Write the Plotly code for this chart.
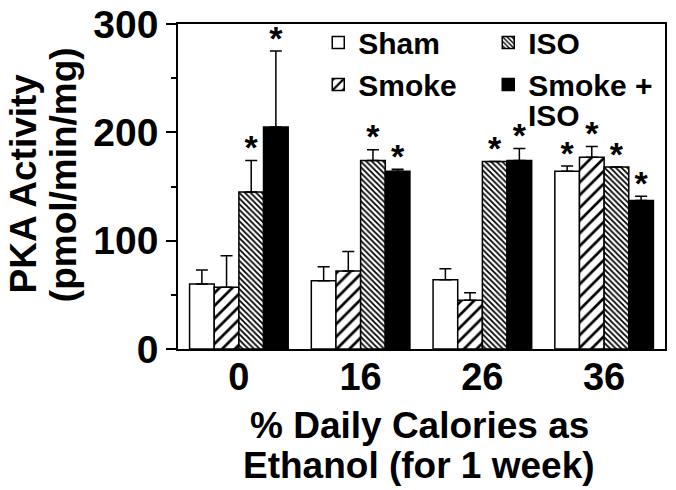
import plotly.graph_objects as go

categories = ["0", "16", "26", "36"]
series_names = ["Sham", "Smoke", "ISO", "Smoke +"]
sham = [60, 63, 64, 164]
sham_err = [13, 13, 10, 5]
smoke = [57, 72, 45, 177]
smoke_err = [29, 18, 7, 10]
iso = [145, 174, 173, 168]
iso_err = [29, 10, 0, 0]
smoke_iso = [205, 164, 174, 137]
smoke_iso_err = [70, 2, 11, 4]
sham_sig = [False, False, False, True]
smoke_sig = [False, False, False, True]
iso_sig = [True, True, True, True]
smoke_iso_sig = [True, True, True, True]
y_ticks = [0, 100, 200, 300]

FONT = "Liberation Sans, Arial, Helvetica, sans-serif"
BARGAP = 0.19
STAR_GAP = 9  # gap between error-bar top and asterisk, in axis units (styling)

values = [sham, smoke, iso, smoke_iso]
errors = [sham_err, smoke_err, iso_err, smoke_iso_err]
sigs = [sham_sig, smoke_sig, iso_sig, smoke_iso_sig]
ranks = [1, 3, 2, 4]
markers = [
    dict(color="white", line=dict(color="black", width=1.5)),
    dict(color="white", line=dict(color="black", width=1.5),
         pattern=dict(shape="/", fgcolor="black", bgcolor="white", size=9, solidity=0.3)),
    dict(color="white", line=dict(color="black", width=1.5),
         pattern=dict(shape="\\", fgcolor="black", bgcolor="white", size=4, solidity=0.45)),
    dict(color="black", line=dict(color="black", width=1.5)),
]

fig = go.Figure()
for i, name in enumerate(series_names):
    fig.add_trace(go.Bar(
        x=categories, y=values[i], name=name, offsetgroup=str(i),
        marker=markers[i], legendrank=ranks[i],
        error_y=dict(type="data", symmetric=False, array=errors[i],
                     arrayminus=[0] * len(categories), color="black",
                     thickness=1.5, width=6),
    ))
for i, name in enumerate(series_names):
    ys = [v + e + STAR_GAP if s else None for v, e, s in zip(values[i], errors[i], sigs[i])]
    fig.add_trace(go.Scatter(
        x=categories, y=ys, mode="text", text=["*"] * len(categories),
        textposition="middle center", offsetgroup=str(i), showlegend=False,
        textfont=dict(family=FONT, size=34, color="black", weight="bold"),
        hoverinfo="skip", cliponaxis=False,
    ))

fig.update_layout(
    template="none",
    width=676, height=490, autosize=False,
    margin=dict(l=178, r=11, t=24, b=141, autoexpand=False),
    paper_bgcolor="white", plot_bgcolor="white",
    barmode="group", bargap=BARGAP, bargroupgap=0,
    scattermode="group", scattergap=BARGAP,
    font=dict(family=FONT, color="black", weight="bold"),
    showlegend=True,
    legend=dict(orientation="h", x=0.288, xanchor="left", y=1.023, yanchor="top",
                entrywidth=125, entrywidthmode="pixels",
                font=dict(family=FONT, size=30, color="black", weight="bold"),
                bgcolor="rgba(0,0,0,0)", traceorder="normal", itemclick=False),
)
fig.update_xaxes(
    type="category", showline=True, mirror=True, linecolor="black", linewidth=1.5,
    ticks="", tickfont=dict(family=FONT, size=38, color="black", weight="bold"),
    ticklabelstandoff=-6,
    showgrid=False, zeroline=False, automargin=False,
)
fig.update_yaxes(
    range=[0, 300], tickvals=y_ticks, ticktext=[str(t) for t in y_ticks],
    showline=True, mirror=True, linecolor="black", linewidth=1.5,
    ticks="outside", ticklen=10, tickwidth=1.5, tickcolor="black",
    tickfont=dict(family=FONT, size=39, color="black", weight="bold"),
    minor=dict(tickvals=[50, 150, 250], ticks="outside", ticklen=5,
               tickwidth=1.5, tickcolor="black"),
    showgrid=False, zeroline=False, automargin=False,
)

title_font = dict(family=FONT, size=37, color="black", weight="bold")
fig.add_annotation(text="PKA Activity", xref="paper", yref="paper", x=-0.318, y=0.51,
                   xanchor="center", yanchor="middle", textangle=-90, showarrow=False,
                   font=title_font)
fig.add_annotation(text="(pmol/min/mg)", xref="paper", yref="paper", x=-0.236, y=0.535,
                   xanchor="center", yanchor="middle", textangle=-90, showarrow=False,
                   font=title_font)
fig.add_annotation(text="% Daily Calories as", xref="paper", yref="paper", x=0.495, y=-0.234,
                   xanchor="center", yanchor="middle", showarrow=False, font=title_font)
fig.add_annotation(text="Ethanol (for 1 week)", xref="paper", yref="paper", x=0.495, y=-0.357,
                   xanchor="center", yanchor="middle", showarrow=False, font=title_font)
# second line of the "Smoke + ISO" legend label
fig.add_annotation(text="ISO", xref="paper", yref="paper", x=0.715, y=0.718,
                   xanchor="left", yanchor="middle", showarrow=False,
                   font=dict(family=FONT, size=30, color="black", weight="bold"))

fig.write_html("out.html", config={"displayModeBar": False},
               post_script="document.body.style.margin='0';")
